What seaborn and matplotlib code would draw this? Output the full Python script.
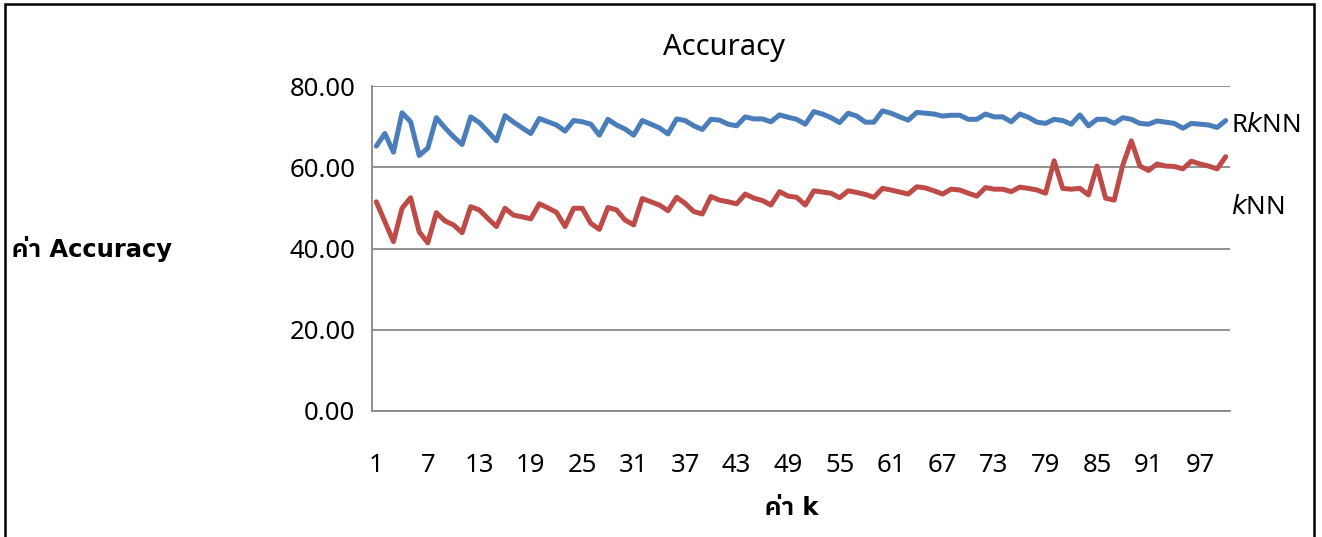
import numpy as np
import pandas as pd
import matplotlib
matplotlib.use("Agg")
import matplotlib.pyplot as plt
import seaborn as sns
from matplotlib import font_manager
from matplotlib.ft2font import FT2Font
from matplotlib.patches import Rectangle
from matplotlib.ticker import FixedLocator, FormatStrFormatter

# Valores (k = 1..100)
k_values = list(range(1, 101))

rknn_acc = [
    65.2, 68.3, 63.7, 73.4, 71.2, 62.9, 64.7, 72.2, 69.7, 67.5,
    65.6, 72.4, 71.0, 68.8, 66.5, 72.7, 71.1, 69.7, 68.3, 72.0,
    71.2, 70.4, 68.9, 71.5, 71.2, 70.6, 67.9, 71.8, 70.4, 69.4,
    67.9, 71.5, 70.6, 69.7, 68.2, 71.9, 71.5, 70.2, 69.3, 71.8,
    71.6, 70.6, 70.2, 72.4, 71.9, 71.9, 71.2, 72.9, 72.3, 71.8,
    70.6, 73.7, 73.1, 72.2, 71.0, 73.3, 72.6, 71.1, 71.1, 73.9,
    73.3, 72.4, 71.6, 73.5, 73.3, 73.1, 72.6, 72.8, 72.8, 71.8,
    71.8, 73.1, 72.4, 72.4, 71.2, 73.1, 72.3, 71.1, 70.8, 71.8,
    71.5, 70.6, 72.9, 70.2, 71.8, 71.8, 70.8, 72.2, 71.8, 70.8,
    70.6, 71.4, 71.1, 70.8, 69.6, 70.8, 70.6, 70.4, 69.8, 71.5,
]

knn_acc = [
    51.5, 46.6, 41.7, 49.9, 52.5, 44.1, 41.4, 48.8, 46.8, 45.8,
    43.9, 50.3, 49.5, 47.4, 45.4, 49.9, 48.2, 47.8, 47.3, 51.0,
    50.0, 48.9, 45.4, 49.9, 49.9, 46.2, 44.7, 50.1, 49.5, 47.0,
    45.8, 52.3, 51.5, 50.7, 49.3, 52.6, 51.1, 49.1, 48.5, 52.8,
    51.9, 51.5, 51.0, 53.4, 52.4, 51.8, 50.7, 54.0, 52.9, 52.6,
    50.7, 54.2, 53.9, 53.6, 52.5, 54.2, 53.8, 53.3, 52.6, 54.8,
    54.4, 53.9, 53.4, 55.2, 54.9, 54.2, 53.4, 54.6, 54.4, 53.6,
    52.9, 55.0, 54.6, 54.6, 54.0, 55.1, 54.8, 54.4, 53.6, 61.6,
    54.8, 54.6, 54.8, 53.2, 60.3, 52.4, 51.9, 60.5, 66.5, 60.3,
    59.2, 60.8, 60.3, 60.2, 59.6, 61.5, 60.8, 60.3, 59.6, 62.6,
]

y_ticks = [0, 20, 40, 60, 80]
x_tick_labels = list(range(1, 101, 6))


def buscar_fuente_thai():
    # busca una fuente instalada que tenga glifos tailandeses (ค, า, ่)
    encontrados = []
    for f in font_manager.fontManager.ttflist:
        try:
            cmap = FT2Font(f.fname).get_charmap()
        except Exception:
            continue
        if all(c in cmap for c in (0x0E04, 0x0E32, 0x0E48)):
            encontrados.append(f)
    if not encontrados:
        return None
    nombres = sorted(set(f.name for f in encontrados))
    preferidos = [n for n in nombres if "Sans" in n and "Looped" not in n] or nombres
    return preferidos[0]


fuente_thai = buscar_fuente_thai()
extra = [fuente_thai] if fuente_thai else []

df = pd.DataFrame({"k": k_values, "RkNN": rknn_acc, "kNN": knn_acc})
df_long = df.melt(id_vars="k", var_name="modelo", value_name="acc")

sns.set_style("white")
plt.rcParams["font.family"] = ["Noto Sans"] + extra + ["DejaVu Sans"]
plt.rcParams["text.color"] = "black"
plt.rcParams["xtick.labelcolor"] = "black"
plt.rcParams["ytick.labelcolor"] = "black"

fig = plt.figure(figsize=(13.22, 5.37), dpi=100)
ax = fig.add_axes([372 / 1322, 1 - 411 / 537, 858 / 1322, 325 / 537])

sns.lineplot(data=df_long, x="k", y="acc", hue="modelo",
             palette={"RkNN": "#4A7EBB", "kNN": "#BE4B48"},
             linewidth=3.6, legend=False, ax=ax)

ax.set_xlim(0.5, 100.5)
ax.set_ylim(0, 80)
ax.set_yticks(y_ticks)
ax.yaxis.set_major_formatter(FormatStrFormatter("%.2f"))
ax.set_xticks(x_tick_labels)
ax.set_xticklabels([str(v) for v in x_tick_labels])
ax.xaxis.set_minor_locator(FixedLocator(np.arange(0.5, 101, 1)))
ax.tick_params(axis="x", which="major", length=0, pad=30, labelsize=18.5, labelcolor="black")
ax.tick_params(axis="x", which="minor", length=7, width=1.2, color="#888888", direction="out")
ax.tick_params(axis="y", which="major", length=8, width=1.2, color="#888888",
               direction="out", pad=4, labelsize=18.5, labelcolor="black")

ax.grid(axis="y", color="#888888", linewidth=1.3)
ax.set_axisbelow(True)
for side in ["top", "right"]:
    ax.spines[side].set_visible(False)
for side in ["left", "bottom"]:
    ax.spines[side].set_color("#888888")
    ax.spines[side].set_linewidth(1.3)

ax.set_xlabel("")
ax.set_ylabel("")

# textos
fig.text(724 / 1322, 1 - 47 / 537, "Accuracy", ha="center", va="center",
         fontsize=21, color="black")
fam_bold = ["DejaVu Sans"] + extra
fig.text(12 / 1322, 1 - 249 / 537, "ค่า Accuracy", ha="left", va="center",
         fontsize=17.5, fontweight="bold", family=fam_bold, color="black")
fig.text(792 / 1322, 1 - 508 / 537, "ค่า k", ha="center", va="center",
         fontsize=17.5, fontweight="bold", family=fam_bold, color="black")
ax.text(100.6, 70.4, r"R$\mathit{k}$NN", ha="left", va="center", fontsize=18.5, color="black")
ax.text(100.6, 50.2, r"$\mathit{k}$NN", ha="left", va="center", fontsize=18.5, color="black")

# marco exterior
fig.patches.append(Rectangle((5 / 1322, -0.05), 1309 / 1322, 1 - 4 / 537 + 0.05,
                             transform=fig.transFigure, fill=False,
                             edgecolor="black", linewidth=1.8))

fig.savefig("out.png", dpi=100)
